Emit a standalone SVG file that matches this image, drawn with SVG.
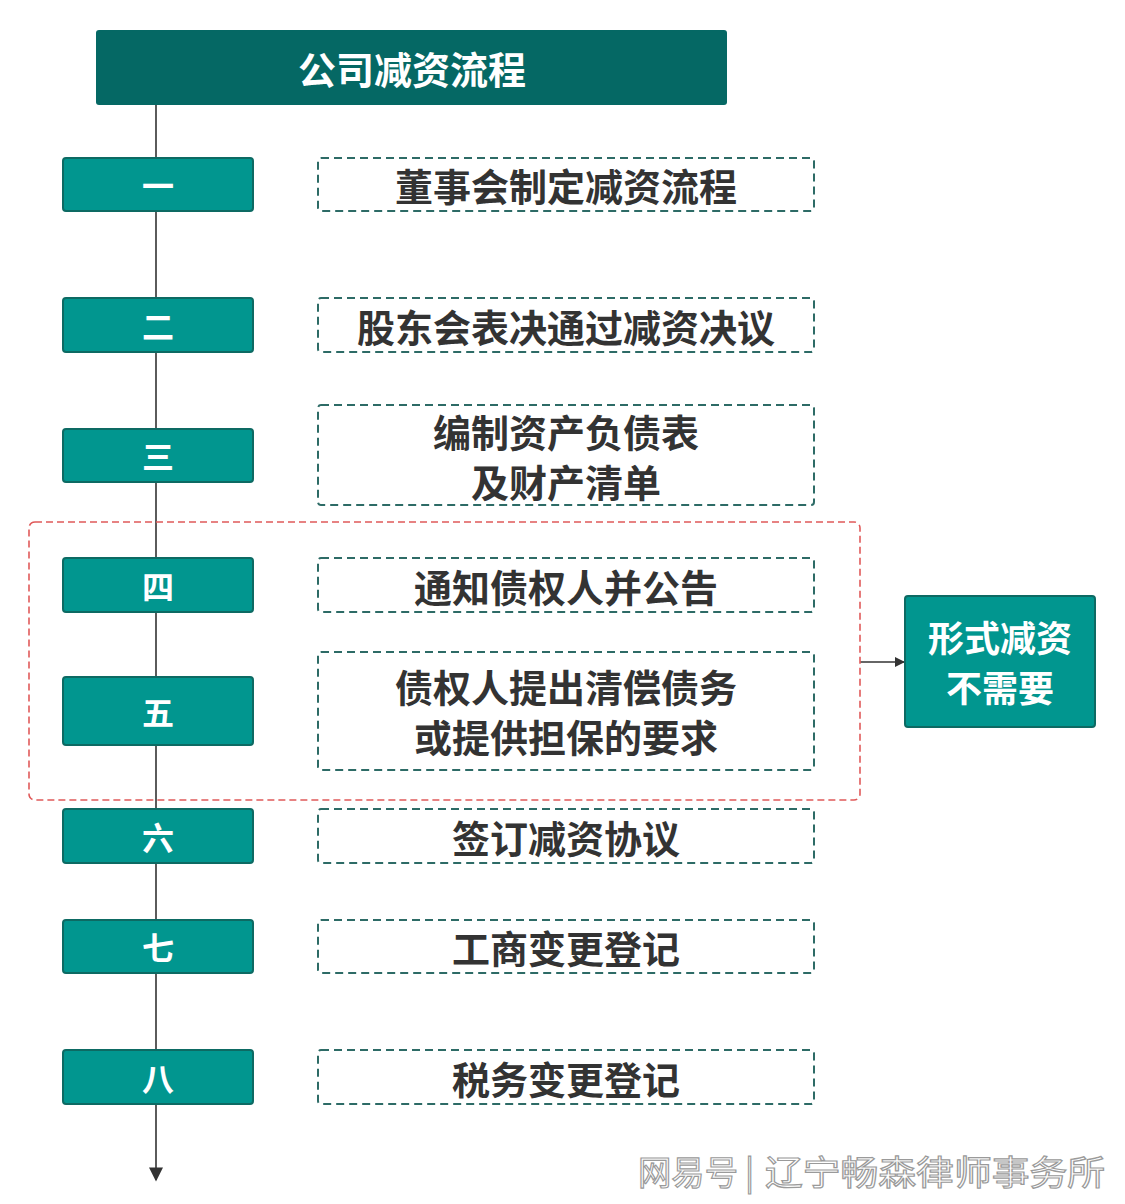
<svg xmlns="http://www.w3.org/2000/svg" width="1125" height="1204" viewBox="0 0 1125 1204">
<style>
.num{fill:#01968f;stroke:#0d6a63;stroke-width:2}
.step{fill:#ffffff;stroke:#2d6b66;stroke-width:2;stroke-dasharray:8 5}
.nt{font-family:"Noto Sans CJK SC",sans-serif;font-size:32px;font-weight:700;fill:#ffffff;text-anchor:middle;dominant-baseline:central}
.st{font-family:"Noto Sans CJK SC",sans-serif;font-size:38px;font-weight:700;fill:#333333;text-anchor:middle;dominant-baseline:central}
.wt{font-family:"Noto Sans CJK SC",sans-serif;font-size:34px;fill:#ffffff;stroke:#9a9a9a;stroke-width:1.2;dominant-baseline:central}
</style>
<defs>
<marker id="ah" viewBox="0 0 10 10" refX="9" refY="5" markerWidth="10" markerHeight="10" markerUnits="userSpaceOnUse" orient="auto">
<path d="M0,0 L10,5 L0,10 z" fill="#333333"/>
</marker>
<marker id="ah2" viewBox="0 0 10 10" refX="9" refY="5" markerWidth="16" markerHeight="14" markerUnits="userSpaceOnUse" orient="auto">
<path d="M0,0 L10,5 L0,10 z" fill="#333333"/>
</marker>
</defs>
<rect width="1125" height="1204" fill="#ffffff"/>
<g id="connectors">
<line x1="156" y1="105" x2="156" y2="1180" stroke="#333333" stroke-width="1.6" marker-end="url(#ah2)"/>
<line x1="860" y1="662" x2="904" y2="662" stroke="#333333" stroke-width="1.6" marker-end="url(#ah)"/>
</g>
<g id="group-box">
<rect x="29" y="522" width="831" height="278" rx="6" fill="none" stroke="#e05a5a" stroke-width="1.6" stroke-dasharray="7 4"/>
</g>
<g id="title">
<rect x="96" y="30" width="631" height="75" rx="3" fill="#056864"/>
<text x="412" y="67" class="nt" style="font-size:38px">公司减资流程</text>
</g>
<g id="n1"><rect class="num" x="63" y="158" width="190" height="53" rx="3"/><text class="nt" x="158" y="184">一</text></g>
<g id="s1"><rect class="step" x="318" y="158" width="496" height="53" rx="3"/><text class="st" x="566" y="184">董事会制定减资流程</text></g>
<g id="n2"><rect class="num" x="63" y="298" width="190" height="54" rx="3"/><text class="nt" x="158" y="325">二</text></g>
<g id="s2"><rect class="step" x="318" y="298" width="496" height="54" rx="3"/><text class="st" x="566" y="325">股东会表决通过减资决议</text></g>
<g id="n3"><rect class="num" x="63" y="429" width="190" height="53" rx="3"/><text class="nt" x="158" y="455">三</text></g>
<g id="s3"><rect class="step" x="318" y="405" width="496" height="100" rx="3"/><text class="st" x="566" y="430">编制资产负债表</text><text class="st" x="566" y="480">及财产清单</text></g>
<g id="n4"><rect class="num" x="63" y="558" width="190" height="54" rx="3"/><text class="nt" x="158" y="585">四</text></g>
<g id="s4"><rect class="step" x="318" y="558" width="496" height="54" rx="3"/><text class="st" x="566" y="585">通知债权人并公告</text></g>
<g id="n5"><rect class="num" x="63" y="677" width="190" height="68" rx="3"/><text class="nt" x="158" y="711">五</text></g>
<g id="s5"><rect class="step" x="318" y="652" width="496" height="118" rx="3"/><text class="st" x="566" y="685">债权人提出清偿债务</text><text class="st" x="566" y="735">或提供担保的要求</text></g>
<g id="n6"><rect class="num" x="63" y="809" width="190" height="54" rx="3"/><text class="nt" x="158" y="836">六</text></g>
<g id="s6"><rect class="step" x="318" y="809" width="496" height="54" rx="3"/><text class="st" x="566" y="836">签订减资协议</text></g>
<g id="n7"><rect class="num" x="63" y="920" width="190" height="53" rx="3"/><text class="nt" x="158" y="946">七</text></g>
<g id="s7"><rect class="step" x="318" y="920" width="496" height="53" rx="3"/><text class="st" x="566" y="946">工商变更登记</text></g>
<g id="n8"><rect class="num" x="63" y="1050" width="190" height="54" rx="3"/><text class="nt" x="158" y="1077">八</text></g>
<g id="s8"><rect class="step" x="318" y="1050" width="496" height="54" rx="3"/><text class="st" x="566" y="1077">税务变更登记</text></g>
<g id="formal"><rect class="num" x="905" y="596" width="190" height="131" rx="3"/><text class="nt" style="font-size:36px" x="1000" y="636">形式减资</text><text class="nt" style="font-size:36px" x="1000" y="686">不需要</text></g>
<g id="watermark">
<text class="wt" x="638" y="1170" textLength="100" lengthAdjust="spacingAndGlyphs">网易号</text>
<text class="wt" x="745" y="1170">|</text>
<text class="wt" x="765" y="1170" textLength="340" lengthAdjust="spacingAndGlyphs">辽宁畅森律师事务所</text>
</g>
</svg>
